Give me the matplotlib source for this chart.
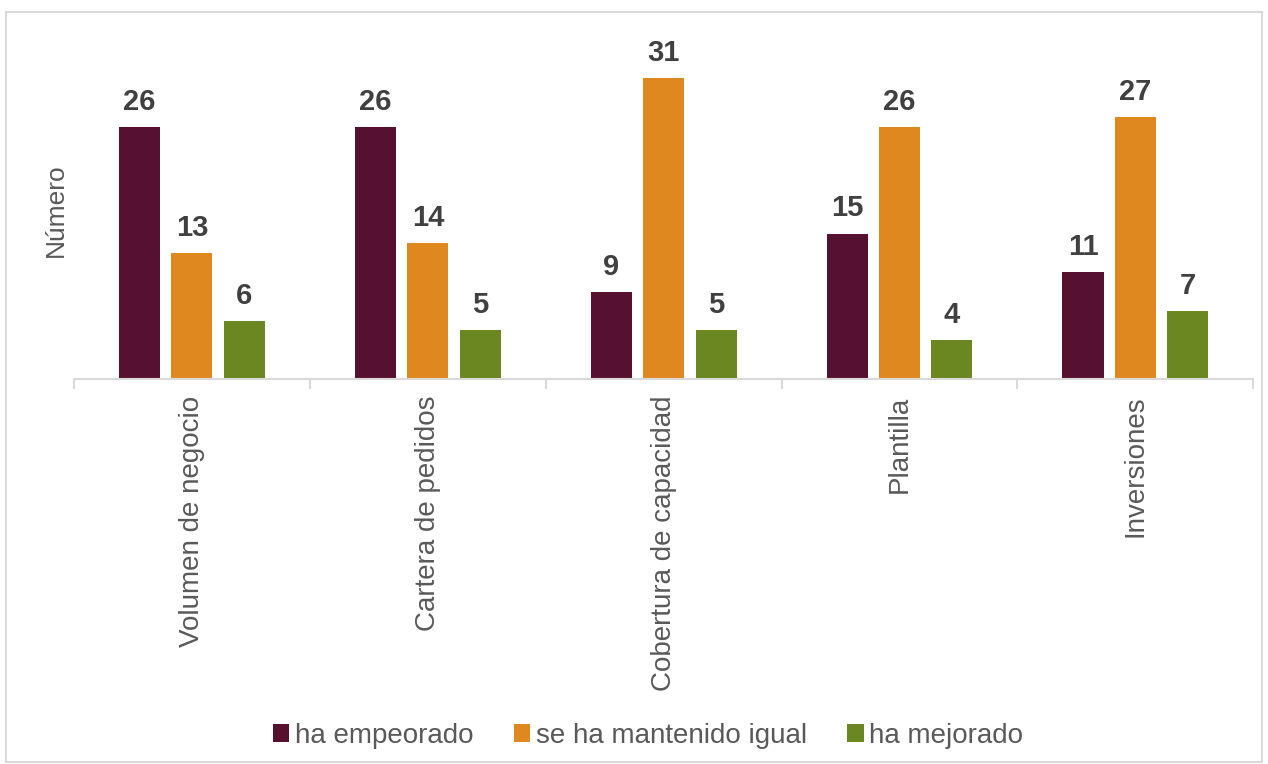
import numpy as np
import matplotlib.pyplot as plt
from matplotlib.patches import Rectangle

plt.rcParams['font.family'] = ['Liberation Sans', 'DejaVu Sans']

# data
categories = ["Volumen de negocio", "Cartera de pedidos", "Cobertura de capacidad", "Plantilla", "Inversiones"]
series_names = ["ha empeorado", "se ha mantenido igual", "ha mejorado"]
empeorado = [26, 26, 9, 15, 11]
igual = [13, 14, 31, 26, 27]
mejorado = [6, 5, 5, 4, 7]
colors = ["#561030", "#E08820", "#6A8722"]

fig = plt.figure(figsize=(12.68, 7.64), dpi=100)
ax = fig.add_axes([0.0584, 0.504, 0.930, 0.406])

x = np.arange(len(categories))
width = 0.174
offsets = [-0.222, 0, 0.222]
for vals, off, col, name in zip([empeorado, igual, mejorado], offsets, colors, series_names):
    bars = ax.bar(x + off, vals, width, color=col, label=name)
    for b, v in zip(bars, vals):
        ax.annotate(str(v), (b.get_x() + b.get_width() / 2, v), xytext=(0, 8),
                    textcoords="offset points", ha="center", va="bottom",
                    fontsize=21, fontweight="bold", color="#404040")

ax.set_xlim(-0.5, len(categories) - 0.5)
ax.set_ylim(0, 32)
ax.set_yticks([])
for s in ["top", "right", "left"]:
    ax.spines[s].set_visible(False)
ax.spines["bottom"].set_color("#d9d9d9")
ax.spines["bottom"].set_linewidth(1.5)

# category boundary ticks
ax.set_xticks(np.arange(-0.5, len(categories)), minor=False)
ax.set_xticklabels([])
ax.tick_params(axis="x", which="major", length=7, width=1.5, color="#d9d9d9")
ax.set_xticks(x, minor=True)
ax.set_xticklabels(categories, minor=True, rotation=90, fontsize=20, color="#595959")
ax.tick_params(axis="x", which="minor", length=0, pad=12)

fig.text(0.044, 0.725, "Número", rotation=90, ha="center", va="center", fontsize=19, color="#595959")

fig.legend(loc="center", bbox_to_anchor=(0.511, 0.037), ncol=3, frameon=False,
           fontsize=20, handlelength=0.6, handleheight=0.6, handletextpad=0.2,
           columnspacing=1.45, labelcolor="#595959")

fig.patches.append(Rectangle((6 / 1268, 2 / 764), 1256 / 1268, 750 / 764, transform=fig.transFigure,
                             fill=False, edgecolor="#d9d9d9", linewidth=1.5))

fig.savefig("out.png", dpi=100)
